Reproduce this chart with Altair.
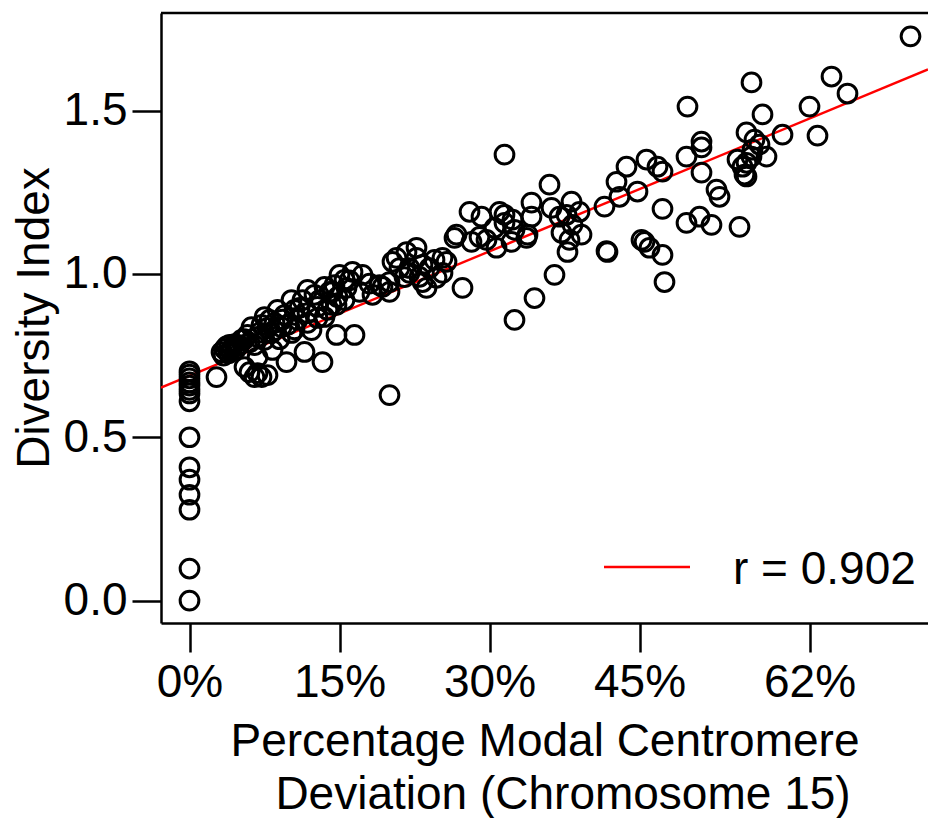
import altair as alt
import pandas as pd

FONT = "Liberation Sans"

# ---- data (x = % modal centromere deviation, y = diversity index) ----
zero_x = [0] * 15
zero_y = [0.702, 0.692, 0.680, 0.668, 0.658, 0.645, 0.634, 0.610, 0.500,
          0.408, 0.370, 0.324, 0.278, 0.098, 0.000]

left_x = [2.7, 3.2, 3.5, 3.7, 4.0, 4.3, 4.6, 3.4, 3.9, 4.5, 4.1, 4.8,
          5.2, 5.8, 5.0, 5.5, 6.0, 6.5, 7.2, 6.8, 6.8, 7.8, 8.3, 9.7,
          11.5, 13.3, 14.7, 16.5, 20.0]
left_y = [0.684, 0.760, 0.770, 0.778, 0.783, 0.775, 0.768, 0.750, 0.757, 0.785, 0.765, 0.780,
          0.798, 0.813, 0.782, 0.715, 0.699, 0.684, 0.684, 0.745, 0.696, 0.690, 0.767, 0.730,
          0.761, 0.730, 0.813, 0.813, 0.629]

band_x = [6.2, 7.5, 8.8, 10.2, 11.8, 13.5, 14.8, 9.2, 10.8, 11.8, 12.8, 13.5,
          10.2, 8.2, 6.8, 12.2, 11.0, 7.2, 8.0, 9.5, 10.5, 11.3, 12.5, 13.0,
          14.0, 14.5, 15.5, 6.5, 7.5, 8.5, 9.8, 12.8, 14.2, 13.8, 15.5, 9.0,
          10.5, 11.8, 5.5, 6.0, 7.0, 7.8, 8.5, 9.3]
band_y = [0.837, 0.868, 0.890, 0.920, 0.951, 0.960, 0.929, 0.837, 0.859, 0.880, 0.899, 0.868,
          0.819, 0.819, 0.807, 0.828, 0.896, 0.844, 0.859, 0.874, 0.890, 0.920, 0.936, 0.920,
          0.945, 0.966, 0.982, 0.782, 0.798, 0.828, 0.844, 0.865, 0.905, 0.890, 0.920, 0.800,
          0.830, 0.850, 0.800, 0.790, 0.820, 0.835, 0.850, 0.860]

mid_x = [15.0, 16.3, 17.3, 15.7, 17.0, 19.0, 20.0, 20.7, 21.7, 22.7, 21.0, 22.0,
         23.3, 24.0, 25.3, 24.7, 26.7, 27.3, 14.3, 14.7, 18.3, 20.0, 23.7, 22.7,
         20.3, 23.3, 24.5, 25.7, 23.0, 25.3, 19.3, 22.0, 16.0, 18.0, 21.5]
mid_y = [0.997, 1.006, 0.997, 0.957, 0.945, 0.966, 0.975, 1.049, 1.067, 1.049, 1.018, 1.018,
         0.975, 1.018, 1.049, 0.988, 1.120, 0.957, 0.945, 0.905, 0.936, 0.945, 0.957, 1.080,
         1.037, 1.028, 1.043, 1.037, 0.991, 1.003, 0.960, 1.003, 0.980, 0.970, 0.990]

upper_x = [31.5, 36.0, 28.0, 29.2, 31.0, 31.5, 32.3, 34.2, 34.2, 36.2, 38.2, 39.0,
           37.7, 37.0, 41.5, 42.7, 43.7, 43.0, 45.7, 46.8, 47.3, 49.7, 44.8, 47.3,
           49.7, 26.5, 28.2, 29.0, 29.7, 30.5, 31.5, 32.5, 33.8, 30.7, 32.2, 33.7,
           37.2, 38.3, 39.2, 38.0, 37.8, 36.5, 34.5, 32.5, 41.7, 41.8, 45.2, 45.5,
           46.0, 47.3, 47.5]
upper_y = [1.365, 1.273, 1.190, 1.175, 1.190, 1.181, 1.166, 1.218, 1.175, 1.202, 1.221, 1.190,
           1.181, 1.175, 1.206, 1.282, 1.328, 1.236, 1.350, 1.328, 1.313, 1.359, 1.252, 1.199,
           1.156, 1.110, 1.098, 1.113, 1.104, 1.141, 1.156, 1.135, 1.120, 1.080, 1.098, 1.110,
           1.126, 1.150, 1.120, 1.104, 1.067, 0.997, 0.926, 0.859, 1.070, 1.067, 1.104, 1.098,
           1.080, 1.058, 0.975]

right_x = [72.1, 64.2, 65.8, 62.0, 56.2, 49.8, 57.3, 55.7, 56.5, 59.3, 62.8, 51.2,
           51.2, 54.8, 55.3, 56.2, 57.7, 55.7, 51.2, 52.7, 53.0, 51.0, 52.2, 55.0,
           57.0, 56.3, 55.5, 55.7]
right_y = [1.727, 1.604, 1.552, 1.512, 1.586, 1.512, 1.488, 1.433, 1.411, 1.426, 1.423, 1.405,
           1.387, 1.350, 1.328, 1.359, 1.359, 1.298, 1.310, 1.258, 1.236, 1.175, 1.150, 1.144,
           1.396, 1.380, 1.304, 1.340]

# fitted line as drawn in the reference
fit_intercept = 0.688
fit_slope = 0.0127
r_label = "r = 0.902"

x_ticks = [0, 15, 30, 45, 62]
y_ticks = [0.0, 0.5, 1.0, 1.5]
x_domain = [-2.85, 73.85]
y_domain = [-0.0686, 1.7985]

xs = zero_x + left_x + band_x + mid_x + upper_x + right_x
ys = zero_y + left_y + band_y + mid_y + upper_y + right_y
points = pd.DataFrame({"x": xs, "y": ys})

fit = pd.DataFrame({"x": x_domain})
fit["y"] = fit_intercept + fit_slope * fit["x"]

W, H = 767, 610
LEFT, TOP = 161, 13

x_enc = alt.X("x:Q", scale=alt.Scale(domain=x_domain, nice=False, zero=False),
              axis=alt.Axis(values=x_ticks, labelExpr="datum.value + '%'", title="",
                            grid=False, tickSize=29, tickWidth=2.5, tickColor="black",
                            domainColor="black", domainWidth=2.5,
                            labelFont=FONT, labelFontSize=46, labelColor="black",
                            labelPadding=8, labelFlush=False, labelOverlap=False))
y_enc = alt.Y("y:Q", scale=alt.Scale(domain=y_domain, nice=False, zero=False),
              axis=alt.Axis(values=y_ticks, format=".1f", title="Diversity Index",
                            grid=False, tickSize=29, tickWidth=2.5, tickColor="black",
                            domainColor="black", domainWidth=2.5,
                            labelFont=FONT, labelFontSize=46, labelColor="black",
                            labelPadding=5, labelFlush=False, labelOverlap=False,
                            titleFont=FONT, titleFontSize=46, titleFontWeight="normal",
                            titleColor="black", titleAngle=270, titleBaseline="alphabetic",
                            titleAlign="center", titleX=48 - LEFT, titleY=317.5 - TOP))

pts = alt.Chart(points).mark_point(shape="circle", filled=False, size=350,
                                   strokeWidth=3, color="black", opacity=1).encode(
    x=x_enc, y=y_enc)

line = alt.Chart(fit).mark_line(color="#ff0000", strokeWidth=2.4, clip=True).encode(
    x=x_enc, y=y_enc)

one = pd.DataFrame({"k": [0]})
top_border = alt.Chart(one).mark_rule(color="black", strokeWidth=2.5).encode(
    x=alt.value(0), x2=alt.value(W), y=alt.value(0))

leg_line = alt.Chart(one).mark_rule(color="#ff0000", strokeWidth=2.4).encode(
    x=alt.value(604 - LEFT), x2=alt.value(690 - LEFT), y=alt.value(567 - TOP))
leg_text = alt.Chart(one).mark_text(align="left", baseline="alphabetic", font=FONT,
                                    fontSize=46, color="black").encode(
    x=alt.value(733 - LEFT), y=alt.value(584 - TOP), text=alt.value(r_label))

xt1 = alt.Chart(one).mark_text(align="center", baseline="alphabetic", font=FONT,
                               fontSize=46, color="black").encode(
    x=alt.value(545 - LEFT), y=alt.value(756 - TOP),
    text=alt.value("Percentage Modal Centromere"))
xt2 = alt.Chart(one).mark_text(align="center", baseline="alphabetic", font=FONT,
                               fontSize=46, color="black").encode(
    x=alt.value(563 - LEFT), y=alt.value(809 - TOP),
    text=alt.value("Deviation (Chromosome 15)"))

chart = alt.layer(line, pts, top_border, leg_line, leg_text, xt1, xt2).properties(
    width=W, height=H,
    padding={"left": LEFT, "top": TOP, "right": 0, "bottom": 818 - TOP - H},
    autosize=alt.AutoSizeParams(type="none"),
    background="white",
).configure_view(strokeOpacity=0)

chart.save("out.html", embed_options={"renderer": "svg", "actions": False})
